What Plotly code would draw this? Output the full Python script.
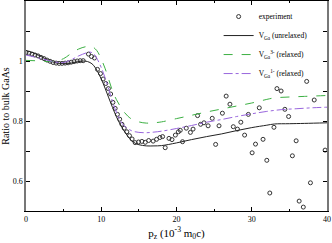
import plotly.graph_objects as go

# Experiment (p_z, ratio)
exp_x = [0.0, 0.4, 0.8, 1.2, 1.6, 2.0, 2.4, 2.8, 3.2, 3.6, 4.0, 4.4, 4.8, 5.2, 5.6, 6.0, 6.4,
         6.8, 7.2, 7.6, 8.3, 8.7, 9.1, 9.5, 9.9, 10.25, 10.6, 10.95, 11.25, 11.55, 11.85,
         12.15, 12.45, 12.75, 13.05, 13.4, 13.75, 14.1, 14.5, 14.95, 15.4, 15.85, 16.3,
         16.9, 17.35, 17.8, 18.15, 18.5, 19.0, 19.4, 19.85, 20.25, 20.5, 20.8, 21.3, 21.85,
         22.2, 22.8, 23.2, 23.65, 24.2, 24.75, 25.2, 25.65, 26.1, 26.6, 27.1, 27.55, 28.1,
         28.55, 29.05, 29.55, 30.05, 30.5, 31.0, 31.5, 32.0, 32.4, 32.95, 33.35, 33.9, 34.4,
         34.9, 35.4, 35.9, 36.3, 36.85, 37.3, 37.8, 38.3, 39.75]
exp_y = [1.028, 1.026, 1.023, 1.020, 1.017, 1.012, 1.008, 1.003, 0.999, 0.995, 0.993, 0.992,
         0.992, 0.993, 0.994, 0.996, 0.998, 1.000, 1.001, 1.001, 1.023, 1.015, 1.010, 0.972,
         0.958, 0.940, 0.925, 0.908, 0.890, 0.862, 0.842, 0.822, 0.806, 0.789, 0.776, 0.764,
         0.751, 0.740, 0.728, 0.730, 0.732, 0.729, 0.735, 0.733, 0.739, 0.745, 0.748, 0.711,
         0.742, 0.738, 0.753, 0.764, 0.769, 0.731, 0.776, 0.762, 0.773, 0.818, 0.789, 0.794,
         0.784, 0.809, 0.722, 0.784, 0.826, 0.883, 0.856, 0.781, 0.773, 0.796, 0.753, 0.822,
         0.694, 0.723, 0.844, 0.739, 0.669, 0.560, 0.779, 0.908, 0.900, 0.839, 0.815, 0.684,
         0.734, 0.533, 0.513, 0.932, 0.594, 0.870, 0.703]

# V_Ga (unrelaxed)
unr_x = [0, 1, 2, 3, 4, 5, 6, 7, 7.8, 8.5, 9, 9.5, 10, 10.5, 11, 11.5, 12, 12.5, 13, 13.5,
         14, 14.5, 15, 16, 17, 18, 20, 22, 24, 26, 28, 30, 32, 33, 35, 37, 40]
unr_y = [1.035, 1.027, 1.015, 1.002, 0.994, 0.991, 0.993, 0.998, 1.000, 0.995, 0.985, 0.965,
         0.940, 0.910, 0.877, 0.845, 0.815, 0.790, 0.768, 0.750, 0.735, 0.726, 0.721, 0.717,
         0.717, 0.718, 0.727, 0.738, 0.748, 0.757, 0.768, 0.778, 0.786, 0.790, 0.791, 0.792,
         0.794]

# V_Ga^3- (relaxed)
r3_x = [0, 2, 3, 4, 5, 6, 7, 8, 8.7, 9.4, 10, 10.5, 11, 11.5, 12, 12.5, 13, 13.5, 14, 15,
        16, 17, 18, 20, 22, 24, 26, 28, 30, 32, 33, 35, 37, 40]
r3_y = [1.002, 1.000, 0.998, 1.000, 1.008, 1.025, 1.040, 1.048, 1.049, 1.035, 1.006, 0.976,
        0.938, 0.900, 0.872, 0.850, 0.831, 0.817, 0.807, 0.797, 0.793, 0.794, 0.797, 0.808,
        0.819, 0.830, 0.840, 0.850, 0.860, 0.872, 0.877, 0.880, 0.882, 0.885]

# V_Ga^1- (relaxed)
r1_x = [0, 2, 4, 5, 6, 7, 8, 8.5, 9, 9.5, 10, 10.5, 11, 11.5, 12, 12.5, 13, 14, 15, 16, 17,
        18, 20, 22, 24, 26, 28, 30, 32, 34, 36, 38, 40]
r1_y = [1.020, 1.008, 0.996, 0.995, 1.004, 1.017, 1.027, 1.030, 1.024, 1.005, 0.978, 0.945,
        0.905, 0.865, 0.830, 0.803, 0.785, 0.768, 0.762, 0.761, 0.763, 0.766, 0.775, 0.785,
        0.796, 0.805, 0.815, 0.824, 0.832, 0.838, 0.841, 0.844, 0.846]

FONT = "Liberation Serif"

fig = go.Figure()
fig.add_trace(go.Scatter(x=exp_x, y=exp_y, mode="markers", name="experiment",
                         marker=dict(symbol="circle-open", size=4, color="#333333",
                                     line=dict(width=1, color="#333333"))))
fig.add_trace(go.Scatter(x=unr_x, y=unr_y, mode="lines", name="V<sub>Ga</sub> (unrelaxed)",
                         line=dict(color="#222222", width=1, shape="spline")))
fig.add_trace(go.Scatter(x=r3_x, y=r3_y, mode="lines",
                         name="V<sub>Ga</sub><sup>3-</sup> (relaxed)",
                         line=dict(color="#3cb043", width=1, dash="dash", shape="spline")))
fig.add_trace(go.Scatter(x=r1_x, y=r1_y, mode="lines",
                         name="V<sub>Ga</sub><sup>1-</sup> (relaxed)",
                         line=dict(color="#9966dd", width=1, dash="dashdot", shape="spline")))

fig.update_layout(
    width=332, height=243,
    margin=dict(l=26, r=5, t=1, b=32),
    paper_bgcolor="white", plot_bgcolor="white",
    font=dict(family=FONT, size=9, color="black"),
    showlegend=True,
    legend=dict(x=0.64, y=0.995, xanchor="left", yanchor="top",
                bgcolor="rgba(0,0,0,0)", font=dict(family=FONT, size=7.5),
                tracegroupgap=0, itemwidth=30),
    xaxis=dict(range=[0, 40], tickvals=[0, 10, 20, 30, 40],
               ticks="inside", ticklen=4, tickcolor="black", tickwidth=1,
               minor=dict(dtick=5, ticks="inside", ticklen=2, tickcolor="black"),
               showline=True, linecolor="black", linewidth=1, mirror="allticks",
               showgrid=False, zeroline=False,
               tickfont=dict(family=FONT, size=8),
               title=dict(text="p<sub>z</sub> (10<sup>-3</sup> m<sub>0</sub>c)",
                          font=dict(family=FONT, size=11), standoff=6)),
    yaxis=dict(range=[0.5, 1.2], tickvals=[0.6, 0.8, 1.0], ticktext=["0.6", "0.8", "1"],
               ticks="inside", ticklen=4, tickcolor="black", tickwidth=1,
               minor=dict(tickvals=[0.7, 0.9, 1.1], ticks="inside", ticklen=4,
                          tickcolor="black"),
               showline=True, linecolor="#777777", linewidth=1.5, mirror="allticks",
               showgrid=False, zeroline=False,
               tickfont=dict(family=FONT, size=8),
               title=dict(text="Ratio to bulk GaAs", font=dict(family=FONT, size=10),
                          standoff=2)),
)

fig.write_html("out.html", config={"displayModeBar": False},
               post_script="document.body.style.margin='0';document.body.style.padding='0';")
